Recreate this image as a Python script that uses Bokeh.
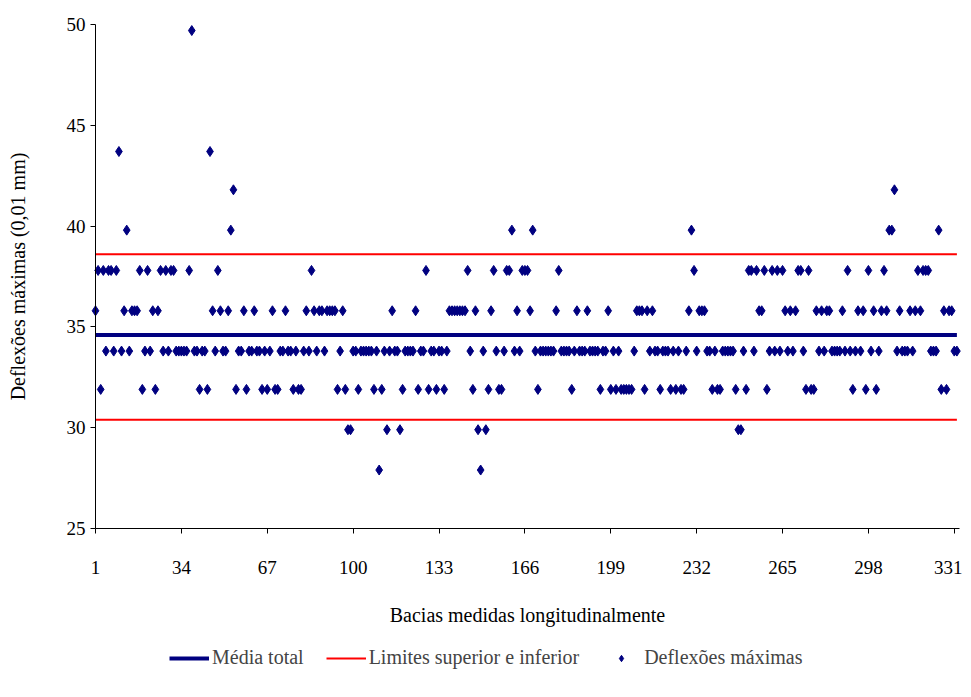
import math
from bokeh.plotting import figure
from bokeh.models import Range1d, FixedTicker, Legend, LegendItem, ColumnDataSource, Label
from bokeh.embed import file_html
from bokeh.resources import INLINE

# ---- data ----
deflexoes = [
    35.8, 37.8, 31.9, 37.8, 33.8, 37.8, 37.8, 33.8, 37.8, 43.7,
    33.8, 35.8, 39.8, 33.8, 35.8, 35.8, 35.8, 37.8, 31.9, 33.8,
    37.8, 33.8, 35.8, 31.9, 35.8, 37.8, 33.8, 37.8, 33.8, 37.8,
    37.8, 33.8, 33.8, 33.8, 33.8, 33.8, 37.8, 49.7, 33.8, 33.8,
    31.9, 33.8, 33.8, 31.9, 43.7, 35.8, 33.8, 37.8, 35.8, 33.8,
    33.8, 35.8, 39.8, 41.8, 31.9, 33.8, 33.8, 35.8, 31.9, 33.8,
    33.8, 35.8, 33.8, 33.8, 31.9, 33.8, 31.9, 33.8, 35.8, 31.9,
    31.9, 33.8, 33.8, 35.8, 33.8, 33.8, 31.9, 33.8, 31.9, 31.9,
    33.8, 35.8, 33.8, 37.8, 35.8, 33.8, 35.8, 35.8, 33.8, 35.8,
    35.8, 35.8, 35.8, 31.9, 33.8, 35.8, 31.9, 29.9, 29.9, 33.8,
    33.8, 31.9, 33.8, 33.8, 33.8, 33.8, 33.8, 31.9, 33.8, 27.9,
    31.9, 33.8, 29.9, 33.8, 35.8, 33.8, 33.8, 29.9, 31.9, 33.8,
    33.8, 33.8, 33.8, 35.8, 31.9, 33.8, 33.8, 37.8, 31.9, 33.8,
    33.8, 31.9, 33.8, 33.8, 31.9, 33.8, 35.8, 35.8, 35.8, 35.8,
    35.8, 35.8, 35.8, 37.8, 33.8, 31.9, 35.8, 29.9, 27.9, 33.8,
    29.9, 31.9, 35.8, 37.8, 33.8, 31.9, 31.9, 33.8, 37.8, 37.8,
    39.8, 33.8, 35.8, 33.8, 37.8, 37.8, 37.8, 35.8, 39.8, 33.8,
    31.9, 33.8, 33.8, 33.8, 33.8, 33.8, 33.8, 35.8, 37.8, 33.8,
    33.8, 33.8, 33.8, 31.9, 33.8, 35.8, 33.8, 33.8, 33.8, 35.8,
    33.8, 33.8, 33.8, 33.8, 31.9, 33.8, 33.8, 35.8, 31.9, 33.8,
    31.9, 33.8, 31.9, 31.9, 31.9, 31.9, 31.9, 33.8, 35.8, 35.8,
    35.8, 31.9, 35.8, 33.8, 35.8, 33.8, 33.8, 31.9, 33.8, 33.8,
    33.8, 31.9, 33.8, 31.9, 33.8, 31.9, 31.9, 33.8, 35.8, 39.8,
    37.8, 33.8, 35.8, 35.8, 35.8, 33.8, 33.8, 31.9, 33.8, 31.9,
    31.9, 33.8, 33.8, 33.8, 33.8, 33.8, 31.9, 29.9, 29.9, 33.8,
    31.9, 37.8, 37.8, 33.8, 37.8, 35.8, 35.8, 37.8, 31.9, 33.8,
    37.8, 33.8, 37.8, 33.8, 37.8, 35.8, 33.8, 35.8, 33.8, 35.8,
    37.8, 37.8, 33.8, 31.9, 37.8, 31.9, 31.9, 35.8, 33.8, 35.8,
    33.8, 35.8, 35.8, 33.8, 33.8, 33.8, 33.8, 35.8, 33.8, 37.8,
    33.8, 31.9, 33.8, 35.8, 33.8, 35.8, 31.9, 37.8, 33.8, 35.8,
    31.9, 33.8, 35.8, 37.8, 35.8, 39.8, 39.8, 41.8, 33.8, 35.8,
    33.8, 33.8, 33.8, 35.8, 33.8, 35.8, 37.8, 35.8, 37.8, 37.8,
    37.8, 33.8, 33.8, 33.8, 39.8, 31.9, 35.8, 31.9, 35.8, 35.8,
    33.8, 33.8,
]
bacias = list(range(1, len(deflexoes) + 1))
media_total = 34.6
limite_superior = 38.6
limite_inferior = 30.4
x_ticks = [1, 34, 67, 100, 133, 166, 199, 232, 265, 298, 331]
y_ticks = [25, 30, 35, 40, 45, 50]
x_min, x_max = 1, 333
y_min, y_max = 25, 50

FONT = "Liberation Serif"
NAVY = "#000080"

# ---- layout (pixels) ----
# The whole figure is the frame; axes are drawn at fixed locations so that
# tick labels, titles and the legend below are all inside the canvas.
PLOT_W, PLOT_H = 864, 504          # plotting rectangle for 1..333 x 25..50
PAD_L, PAD_R, PAD_T, PAD_B = 95, 3, 24, 160
px_x = PLOT_W / (x_max - x_min)
px_y = PLOT_H / (y_max - y_min)

p = figure(frame_width=PAD_L + PLOT_W + PAD_R, frame_height=PAD_T + PLOT_H + PAD_B,
           x_range=Range1d(x_min - PAD_L / px_x, x_max + PAD_R / px_x),
           y_range=Range1d(y_min - PAD_B / px_y, y_max + PAD_T / px_y),
           output_backend="svg", toolbar_location=None,
           min_border_left=0, min_border_right=0, min_border_top=0, min_border_bottom=0)
p.xgrid.visible = False
p.ygrid.visible = False
p.outline_line_color = None
p.background_fill_color = "white"
p.border_fill_color = "white"

x_ends = [bacias[0], bacias[-1]]
r_media = p.line(x_ends, [media_total, media_total], line_color=NAVY, line_width=4)
r_sup = p.line(x_ends, [limite_superior, limite_superior], line_color="#FF0000", line_width=2)
r_inf = p.line(x_ends, [limite_inferior, limite_inferior], line_color="#FF0000", line_width=2)

src = ColumnDataSource(dict(x=bacias, y=deflexoes))
r_pts = p.scatter("x", "y", source=src, marker="diamond", size=10,
                  fill_color=NAVY, line_color=NAVY)

for ax in (p.xaxis[0], p.yaxis[0]):
    ax.axis_line_color = "black"
    ax.axis_line_width = 1
    ax.major_tick_line_color = "black"
    ax.major_tick_in = 0
    ax.major_tick_out = 5
    ax.minor_tick_line_color = None
    ax.major_label_text_font = FONT
    ax.major_label_text_font_size = "19px"
    ax.major_label_text_color = "black"
    ax.axis_label_text_font = FONT
    ax.axis_label_text_font_size = "20px"
    ax.axis_label_text_font_style = "normal"
    ax.axis_label_text_color = "black"

p.xaxis.ticker = FixedTicker(ticks=x_ticks)
p.yaxis.ticker = FixedTicker(ticks=y_ticks)
p.xaxis.bounds = (x_min, x_max)
p.yaxis.bounds = (y_min, y_max)
p.xaxis.fixed_location = y_min
p.yaxis.fixed_location = x_min
p.xaxis.axis_label = "Bacias medidas longitudinalmente"
p.xaxis.major_label_standoff = 27
p.xaxis.axis_label_standoff = 27
p.yaxis.major_label_standoff = 5

# y-axis title, centred on the 25..50 plotting rectangle
p.add_layout(Label(x=17, y=PAD_B + PLOT_H / 2, x_units="screen", y_units="screen",
                   text="Deflexões máximas (0,01 mm)", angle=math.pi / 2,
                   text_align="center", text_baseline="middle",
                   text_font=FONT, text_font_size="20px", text_color="black"))

legend = Legend(items=[
    LegendItem(label="Média total", renderers=[r_media]),
    LegendItem(label="Limites superior e inferior", renderers=[r_sup]),
    LegendItem(label="Deflexões máximas", renderers=[r_pts]),
], orientation="horizontal", location=(PAD_L + 74, 19),
    border_line_color=None, background_fill_alpha=0,
    label_text_font=FONT, label_text_font_size="20px",
    glyph_width=40, glyph_height=16, label_standoff=3, spacing=22,
    margin=0, padding=2)
p.add_layout(legend, "center")

open("out.html", "w").write(file_html(p, INLINE))
